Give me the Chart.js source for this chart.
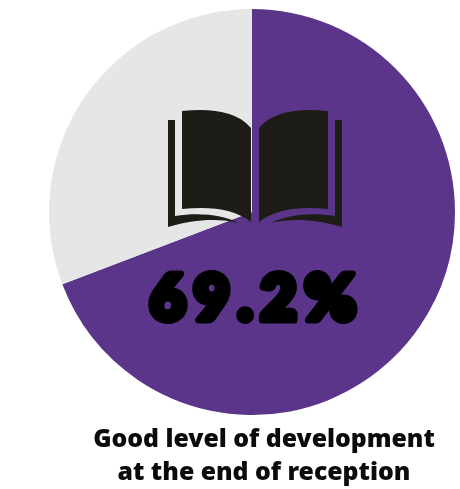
<!DOCTYPE html>
<html>
<head>
<meta charset="utf-8">
<script src="https://cdn.jsdelivr.net/npm/chart.js@4"></script>
<style>
  html, body { margin: 0; padding: 0; background: #fff; }
  #wrap { position: relative; width: 460px; height: 489px; }
</style>
</head>
<body>
<div id="wrap"><canvas id="pie"></canvas></div>
<script>
const categories = ["Good level of development", "Not at a good level"];
const values = [69.2, 30.8];
const sliceColors = ["#5b3589", "#e6e6e6"];
const headline = "69.2%";
const captionLines = ["Good level of development", "at the end of reception"];

// one half of the book, drawn for the left side and mirrored for the right
function drawBookSide(ctx) {
  ctx.beginPath();
  ctx.moveTo(-73, -101);
  ctx.bezierCurveTo(-45, -104, -18, -101, -4, -84);
  ctx.lineTo(-4, 10);
  ctx.bezierCurveTo(-20, -3, -45, -6, -73, -3);
  ctx.closePath();
  ctx.fill();

  ctx.beginPath();
  ctx.moveTo(-87, -92);
  ctx.lineTo(-80, -92);
  ctx.lineTo(-80, 4);
  ctx.bezierCurveTo(-55, 0, -32, 3, -16, 11);
  ctx.bezierCurveTo(-35, 6, -62, 7, -87, 15);
  ctx.closePath();
  ctx.fill();
}

const artwork = {
  id: "artwork",
  afterDraw(chart) {
    const ctx = chart.ctx;
    const arc = chart.getDatasetMeta(0).data[0];

    ctx.save();
    ctx.translate(arc.x + 3, arc.y);
    ctx.fillStyle = "#1d1c16";
    drawBookSide(ctx);
    ctx.scale(-1, 1);
    drawBookSide(ctx);
    ctx.restore();

    ctx.save();
    ctx.textAlign = "center";
    ctx.textBaseline = "alphabetic";

    // heavy rounded stroke gives the big number its chunky shape
    ctx.font = "800 62px Lato";
    ctx.letterSpacing = "8px";
    ctx.lineJoin = "round";
    ctx.lineWidth = 7;
    ctx.strokeStyle = "#000";
    ctx.fillStyle = "#000";
    ctx.strokeText(headline, arc.x + 5, 320);
    ctx.fillText(headline, arc.x + 5, 320);

    ctx.letterSpacing = "0px";
    ctx.font = "900 24.8px 'Noto Sans'";
    ctx.fillStyle = "#0b0b0b";
    ctx.fillText(captionLines[0], 264, 447);
    ctx.fillText(captionLines[1], 264, 480);
    ctx.restore();
  }
};

new Chart(document.getElementById("pie"), {
  type: "pie",
  data: {
    labels: categories,
    datasets: [{ data: values, backgroundColor: sliceColors, borderWidth: 0 }]
  },
  options: {
    responsive: true,
    maintainAspectRatio: false,
    animation: false,
    layout: { padding: { left: 49, right: 5, top: 9, bottom: 74 } },
    plugins: { legend: { display: false }, tooltip: { enabled: false } }
  },
  plugins: [artwork]
});
</script>
</body>
</html>
